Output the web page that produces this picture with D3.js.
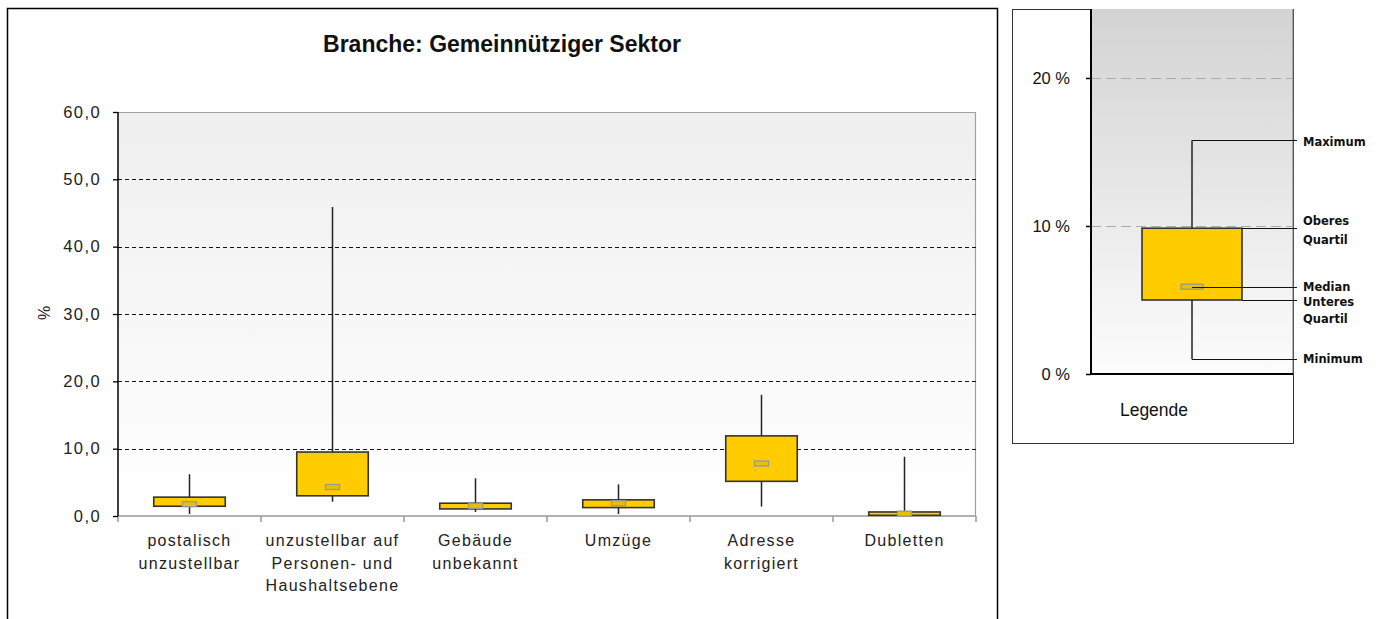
<!DOCTYPE html>
<html>
<head>
<meta charset="utf-8">
<script src="https://cdn.jsdelivr.net/npm/d3@7"></script>
<style>
  body { margin: 0; background: #fff; }
  svg { display: block; font-family: "Liberation Sans", Arial, sans-serif; }
</style>
</head>
<body>
<svg id="chart" width="1382" height="619"></svg>
<script>
// data (percent)
const categories = ["postalisch\nunzustellbar", "unzustellbar auf\nPersonen- und\nHaushaltsebene", "Gebäude\nunbekannt", "Umzüge", "Adresse\nkorrigiert", "Dubletten"];
const minima  = [0.3, 2.1, 0.6, 0.3, 1.4, 0.0];
const q1s     = [1.45, 3.0, 1.05, 1.25, 5.15, 0.1];
const medians = [1.75, 4.3, 1.5, 1.9, 7.8, 0.35];
const q3s     = [2.8, 9.5, 1.9, 2.4, 11.9, 0.6];
const maxima  = [6.2, 45.9, 5.6, 4.7, 18.0, 8.8];
const yTicks = [0, 10, 20, 30, 40, 50, 60];

// legend example box
const legendTicks = [0, 10, 20];
const legendStats = [1.0, 5.0, 5.9, 9.85, 15.8];   // min, q1, median, q3, max
const legendLabels = ["Minimum", "Unteres\nQuartil", "Median", "Oberes\nQuartil", "Maximum"];

const svg = d3.select("#chart");
const defs = svg.append("defs");

const g1 = defs.append("linearGradient").attr("id", "bgMain").attr("x1", 0).attr("y1", 0).attr("x2", 0).attr("y2", 1);
g1.append("stop").attr("offset", "0%").attr("stop-color", "#efefef");
g1.append("stop").attr("offset", "100%").attr("stop-color", "#ffffff");
const g2 = defs.append("linearGradient").attr("id", "bgLeg").attr("x1", 0).attr("y1", 0).attr("x2", 0).attr("y2", 1);
g2.append("stop").attr("offset", "0%").attr("stop-color", "#d3d3d3");
g2.append("stop").attr("offset", "100%").attr("stop-color", "#fcfcfc");

// ---------- main chart ----------
svg.append("rect").attr("x", 7.5).attr("y", 8.5).attr("width", 990).attr("height", 640)
  .attr("fill", "none").attr("stroke", "#000").attr("stroke-width", 1.5);

svg.append("text").attr("x", 502).attr("y", 52).attr("text-anchor", "middle")
  .attr("font-size", 23).attr("font-weight", "bold").attr("fill", "#111")
  .text("Branche: Gemeinnütziger Sektor");

const pLeft = 118, pRight = 976, pTop = 112, pBottom = 516;
const x = d3.scaleBand().domain(categories).range([pLeft, pRight]);
const y = d3.scaleLinear().domain([0, 60]).range([pBottom, pTop]);

svg.append("rect").attr("x", pLeft).attr("y", pTop).attr("width", pRight - pLeft).attr("height", pBottom - pTop)
  .attr("fill", "url(#bgMain)");
svg.append("path").attr("d", `M${pLeft},${pTop + 0.5}H${pRight - 0.5}V${pBottom}`)
  .attr("fill", "none").attr("stroke", "#a0a0a0").attr("stroke-width", 1.2);

// grid
svg.append("g").selectAll("line").data(yTicks.filter(d => d > 0 && d < 60)).join("line")
  .attr("x1", pLeft).attr("x2", pRight).attr("y1", d => Math.round(y(d)) + 0.5).attr("y2", d => Math.round(y(d)) + 0.5)
  .attr("stroke", "#111").attr("stroke-dasharray", "4,3");

// x axis
const xAxis = svg.append("g").attr("transform", `translate(0,${pBottom})`);
xAxis.append("line").attr("x1", pLeft).attr("x2", pRight).attr("stroke", "#999").attr("stroke-width", 1.5);
const bounds = categories.map(c => x(c)).concat([pRight]);
xAxis.selectAll("line.t").data(bounds).join("line").attr("class", "t")
  .attr("x1", d => d).attr("x2", d => d).attr("y1", 0).attr("y2", 6).attr("stroke", "#999").attr("stroke-width", 1.5);
const labels = xAxis.selectAll("text").data(categories).join("text")
  .attr("x", d => x(d) + x.bandwidth() / 2).attr("text-anchor", "middle")
  .attr("font-size", 16).attr("fill", "#222").attr("letter-spacing", 1.3);
labels.each(function(d) {
  d3.select(this).selectAll("tspan").data(d.split("\n")).join("tspan")
    .attr("x", x(d) + x.bandwidth() / 2).attr("y", (t, i) => 30 + i * 22.5).text(t => t);
});

// y axis
const yAxis = svg.append("g").attr("transform", `translate(${pLeft},0)`)
  .call(d3.axisLeft(y).tickValues(yTicks).tickSize(5).tickPadding(12)
    .tickFormat(d => d3.format(".1f")(d).replace(".", ",")));
yAxis.select(".domain").attr("stroke", "#000").attr("stroke-width", 1.5).attr("d", `M0,${pTop}V${pBottom}`);
yAxis.selectAll(".tick line").attr("stroke", "#000").attr("stroke-width", 1.3);
yAxis.selectAll(".tick text").attr("font-size", 16.5).attr("fill", "#222")
  .attr("font-family", "Liberation Sans, Arial, sans-serif").attr("letter-spacing", 1.4);

svg.append("text").attr("transform", "translate(50,313) rotate(-90)").attr("text-anchor", "middle")
  .attr("font-size", 16).attr("fill", "#222").text("%");

// boxes
const boxW = x.bandwidth() / 2;
const boxes = svg.append("g").selectAll("g").data(categories).join("g");
boxes.append("line")
  .attr("x1", d => x(d) + x.bandwidth() / 2).attr("x2", d => x(d) + x.bandwidth() / 2)
  .attr("y1", (d, i) => y(minima[i])).attr("y2", (d, i) => y(maxima[i]))
  .attr("stroke", "#222").attr("stroke-width", 1.5);
boxes.append("rect")
  .attr("x", d => x(d) + x.bandwidth() / 2 - boxW / 2).attr("width", boxW)
  .attr("y", (d, i) => y(q3s[i])).attr("height", (d, i) => y(q1s[i]) - y(q3s[i]))
  .attr("fill", "#ffcc00").attr("stroke", "#333").attr("stroke-width", 1.6);
boxes.append("rect")
  .attr("x", d => x(d) + x.bandwidth() / 2 - 7).attr("width", 14)
  .attr("y", (d, i) => y(medians[i]) - 2.5).attr("height", 5)
  .attr("fill", "#e8c000").attr("stroke", "#999").attr("stroke-width", 1.3);

// ---------- legend panel ----------
const lx0 = 1091, lx1 = 1293, ly0 = 9, ly1 = 374;
svg.append("rect").attr("x", 1012.5).attr("y", 9.5).attr("width", 281).attr("height", 434)
  .attr("fill", "#fff").attr("stroke", "#333").attr("stroke-width", 1);
const ly = d3.scaleLinear().domain([0, 10]).range([ly1, 226]);
svg.append("rect").attr("x", lx0).attr("y", ly0).attr("width", lx1 - lx0).attr("height", ly1 - ly0)
  .attr("fill", "url(#bgLeg)");
svg.append("line").attr("x1", lx1).attr("x2", lx1).attr("y1", ly0).attr("y2", ly1).attr("stroke", "#777");

svg.append("g").selectAll("line").data(legendTicks.filter(d => d > 0)).join("line")
  .attr("x1", lx0).attr("x2", lx1).attr("y1", d => Math.round(ly(d)) + 0.5).attr("y2", d => Math.round(ly(d)) + 0.5)
  .attr("stroke", "#aaa").attr("stroke-dasharray", "10,5");

const lAxis = svg.append("g").attr("transform", `translate(${lx0},0)`)
  .call(d3.axisLeft(ly).tickValues(legendTicks).tickSize(5).tickPadding(16).tickFormat(d => d + " %"));
lAxis.select(".domain").attr("stroke", "#000").attr("stroke-width", 2).attr("d", `M0,${ly0}V${ly1}`);
lAxis.selectAll(".tick line").attr("stroke", "#000").attr("stroke-width", 1.5);
lAxis.selectAll(".tick text").attr("font-size", 16.5).attr("fill", "#111")
  .attr("font-family", "Liberation Sans, Arial, sans-serif");
svg.append("line").attr("x1", lx0).attr("x2", lx1).attr("y1", ly1).attr("y2", ly1)
  .attr("stroke", "#000").attr("stroke-width", 2);

const [lMin, lQ1, lMed, lQ3, lMax] = legendStats;
const lcx = 1192, lbw = 100;
const leaderEnd = 1297;
// leader lines
const leaders = [
  { v: lMin, from: lcx }, { v: lQ1, from: lcx + lbw / 2 }, { v: lMed, from: lcx },
  { v: lQ3, from: lcx + lbw / 2 }, { v: lMax, from: lcx }
];
svg.append("g").selectAll("line").data(leaders).join("line")
  .attr("x1", d => d.from).attr("x2", leaderEnd)
  .attr("y1", d => Math.round(ly(d.v)) + 0.5).attr("y2", d => Math.round(ly(d.v)) + 0.5)
  .attr("stroke", "#111").attr("stroke-width", 1.2);
svg.append("line").attr("x1", lcx).attr("x2", lcx).attr("y1", ly(lMin)).attr("y2", ly(lMax))
  .attr("stroke", "#222").attr("stroke-width", 1.5);
svg.append("rect").attr("x", lcx - lbw / 2).attr("width", lbw).attr("y", ly(lQ3)).attr("height", ly(lQ1) - ly(lQ3))
  .attr("fill", "#ffcc00").attr("stroke", "#333").attr("stroke-width", 1.6);
svg.append("rect").attr("x", lcx - 11).attr("width", 22).attr("y", ly(lMed) - 2.5).attr("height", 5)
  .attr("fill", "#e8c000").attr("stroke", "#999").attr("stroke-width", 1.3);
svg.append("line").attr("x1", lcx).attr("x2", lcx + lbw / 2).attr("y1", Math.round(ly(lMed)) + 0.5).attr("y2", Math.round(ly(lMed)) + 0.5)
  .attr("stroke", "#111").attr("stroke-width", 1.2);

// leader labels
const labelY = [358, 301, 286, 220.5, 141];
const labelGap = [0, 17, 0, 18.5, 0];
svg.append("g").selectAll("text").data(legendLabels).join("text")
  .attr("font-family", "DejaVu Sans, Verdana, sans-serif").attr("font-weight", "bold")
  .attr("font-size", 11.5).attr("fill", "#111")
  .each(function(d, i) {
    d3.select(this).selectAll("tspan").data(d.split("\n")).join("tspan")
      .attr("x", 1303).attr("y", (t, j) => labelY[i] + 4.5 + j * labelGap[i]).text(t => t);
  });

svg.append("text").attr("x", 1154).attr("y", 416).attr("text-anchor", "middle")
  .attr("font-size", 17.5).attr("fill", "#111").text("Legende");
</script>
</body>
</html>
